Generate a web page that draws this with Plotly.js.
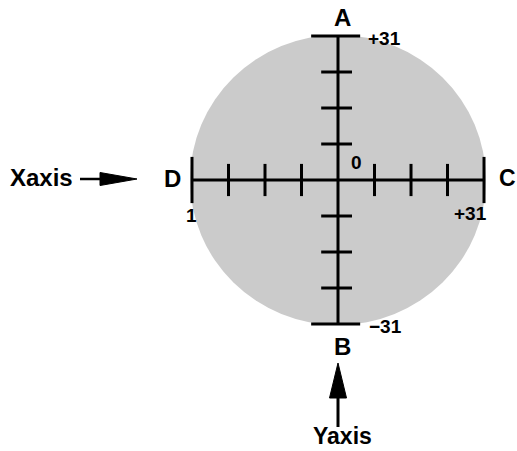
<!DOCTYPE html>
<html>
<head>
<meta charset="utf-8">
<script src="https://cdn.plot.ly/plotly-3.0.1.min.js"></script>
<style>html,body{margin:0;padding:0;background:#fff;}#chart{width:517px;height:451px;}</style>
</head>
<body>
<div id="chart"></div>
<script>
// ---- data ----
var axisLimit = 31;
var xTickValues = [-23.25, -15.5, -7.75, 7.75, 15.5, 23.25];
var yTickValues = [-23.25, -15.5, -7.75, 7.75, 15.5, 23.25];
var xEndValues = [-31, 31];
var yEndValues = [-31, 31];
var endLabels = ['A', 'B', 'C', 'D'];
var scaleLabels = ['+31', '\u221231', '+31', '1', '0'];
var axisNames = ['Xaxis', 'Yaxis'];

// ---- pixel helpers (layout only) ----
var CX = 338, CY = 180, SX = 4.71, SY = 4.645;
function dx(p) { return (p - CX) / SX; }
function dy(p) { return (CY - p) / SY; }

var FONT = 'Liberation Sans, Arial, sans-serif';
function lab(text, x, y, size) {
  return {text: text, x: dx(x), y: dy(y), xref: 'x', yref: 'y', showarrow: false,
    xanchor: 'center', yanchor: 'middle', borderpad: 0,
    font: {family: FONT, size: size, color: '#000', weight: 'bold'}};
}

var traces = [
  {x: [-axisLimit, axisLimit], y: [0, 0], mode: 'lines', line: {color: '#000', width: 3}, hoverinfo: 'skip'},
  {x: [0, 0], y: [-axisLimit, axisLimit], mode: 'lines', line: {color: '#000', width: 3}, hoverinfo: 'skip'},
  {x: xTickValues, y: xTickValues.map(function(){return 0;}), mode: 'markers',
    marker: {symbol: 'line-ns', size: 23, line: {color: '#000', width: 3}}, hoverinfo: 'skip'},
  {x: xEndValues, y: xEndValues.map(function(){return 0;}), mode: 'markers',
    marker: {symbol: 'line-ns', size: 33, line: {color: '#000', width: 3}}, hoverinfo: 'skip'},
  {x: yTickValues.map(function(){return -0.3;}), y: yTickValues, mode: 'markers',
    marker: {symbol: 'line-ew', size: 22, line: {color: '#000', width: 3}}, hoverinfo: 'skip'},
  {x: yEndValues.map(function(){return -0.5;}), y: yEndValues, mode: 'markers',
    marker: {symbol: 'line-ew', size: 35, line: {color: '#000', width: 3}}, hoverinfo: 'skip'}
];

function pathOf(pts, close) {
  var s = pts.map(function(p, i){ return (i ? 'L' : 'M') + dx(p[0]) + ',' + dy(p[1]); }).join(' ');
  return close ? s + ' Z' : s;
}

var shapes = [
  {type: 'circle', xref: 'x', yref: 'y', x0: -31.4, x1: 31.4, y0: -31.2, y1: 31.2,
    fillcolor: '#cbcbcb', line: {width: 0}, layer: 'below'},
  // X arrow
  {type: 'path', xref: 'x', yref: 'y', path: pathOf([[80, 179], [104, 179]]), line: {color: '#000', width: 2.5}},
  {type: 'path', xref: 'x', yref: 'y', path: pathOf([[100, 172.5], [137, 179], [100, 185.5]], true),
    fillcolor: '#000', line: {color: '#000', width: 1}},
  // Y arrow
  {type: 'path', xref: 'x', yref: 'y', path: pathOf([[338, 427], [338, 394]]), line: {color: '#000', width: 3}},
  {type: 'path', xref: 'x', yref: 'y', path: pathOf([[329.5, 398], [338, 363], [346.5, 398]], true),
    fillcolor: '#000', line: {color: '#000', width: 1}}
];

var annotations = [
  lab(endLabels[0], 342, 17, 24),
  lab(endLabels[1], 342, 346, 24),
  lab(endLabels[2], 507, 178, 23),
  lab(endLabels[3], 172, 178, 24),
  lab(scaleLabels[0], 384, 38, 19),
  lab(scaleLabels[1], 385, 326, 19),
  lab(scaleLabels[2], 470, 213, 19),
  lab(scaleLabels[3], 191, 215, 19),
  lab(scaleLabels[4], 356, 162, 19),
  lab(axisNames[0], 41, 177, 24),
  lab(axisNames[1], 342, 436, 23)
];

var layout = {
  width: 517, height: 451,
  margin: {l: 0, r: 0, t: 0, b: 0, pad: 0},
  paper_bgcolor: '#fff', plot_bgcolor: '#fff',
  showlegend: false,
  xaxis: {range: [dx(0), dx(517)], visible: false, fixedrange: true},
  yaxis: {range: [dy(451), dy(0)], visible: false, fixedrange: true},
  shapes: shapes,
  annotations: annotations
};

Plotly.newPlot('chart', traces, layout, {displayModeBar: false, staticPlot: true});
</script>
</body>
</html>
